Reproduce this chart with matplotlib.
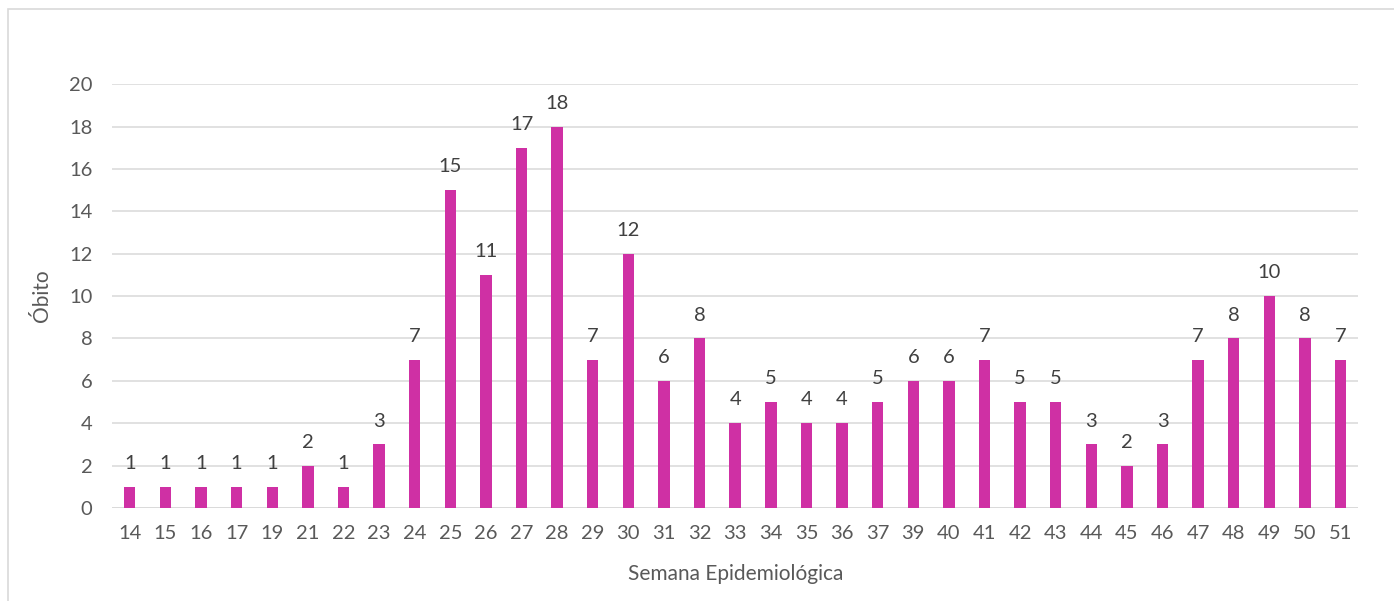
import matplotlib.pyplot as plt
from matplotlib.patches import Rectangle

# Données : semaine épidémiologique / nombre d'obitos
semanas = ['14', '15', '16', '17', '19', '21', '22', '23', '24', '25', '26', '27',
           '28', '29', '30', '31', '32', '33', '34', '35', '36', '37', '39', '40',
           '41', '42', '43', '44', '45', '46', '47', '48', '49', '50', '51']
obitos = [1, 1, 1, 1, 1, 2, 1, 3, 7, 15, 11, 17, 18, 7, 12, 6, 8, 4, 5, 4, 4, 5,
          6, 6, 7, 5, 5, 3, 2, 3, 7, 8, 10, 8, 7]
yticks = [0, 2, 4, 6, 8, 10, 12, 14, 16, 18, 20]

plt.rcParams['font.family'] = ['Lato', 'DejaVu Sans']
cinza = '#595959'
cor = '#CF30A4'

fig = plt.figure(figsize=(13.94, 6.01), dpi=100)
# cadre gris autour du graphique
fig.patches.append(Rectangle((8 / 1394, -0.01), 1.02, 1 - 9 / 601 + 0.01,
                             transform=fig.transFigure, fill=False,
                             edgecolor='#D9D9D9', lw=1.2))

ax = fig.add_axes([0.0803, 0.1547, 0.9745 - 0.0803, 0.860 - 0.1547])
x = range(len(semanas))
ax.bar(x, obitos, width=0.32, color=cor, zorder=3)
for xi, v in zip(x, obitos):
    ax.text(xi, v + 0.7, str(v), ha='center', va='bottom', fontsize=14.5,
            color='#404040')

ax.set_xlim(-0.5, len(semanas) - 0.5)
ax.set_ylim(0, 20)
ax.set_yticks(yticks)
ax.set_xticks(list(x))
ax.set_xticklabels(semanas)
ax.yaxis.grid(True, color='#D9D9D9', lw=1.1, zorder=0)
for s in ax.spines.values():
    s.set_visible(False)
ax.axhline(0, color='#D9D9D9', lw=1.1, zorder=1)
ax.tick_params(axis='both', length=0, labelsize=14.5, colors=cinza)
ax.tick_params(axis='x', pad=12)
ax.tick_params(axis='y', pad=14)
ax.set_xlabel('Semana Epidemiológica', fontsize=15, color=cinza, labelpad=16)
ax.set_ylabel('Óbito', fontsize=15, color=cinza, labelpad=12)

fig.savefig('out.png', dpi=100)
